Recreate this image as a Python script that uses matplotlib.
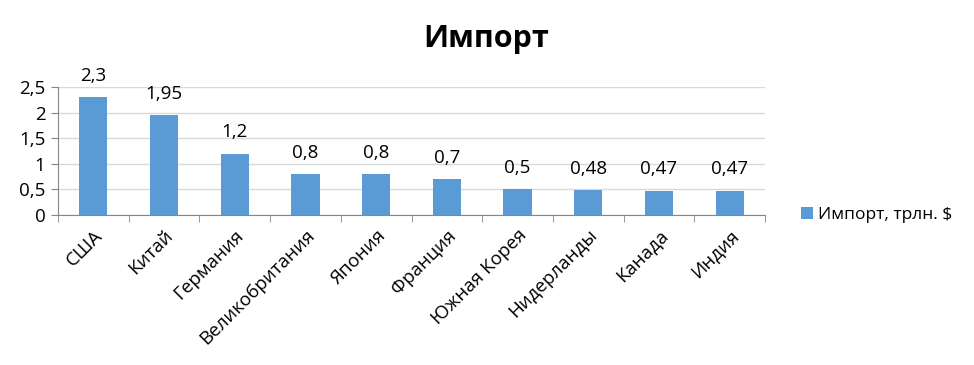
import matplotlib
matplotlib.use("Agg")
import matplotlib.pyplot as plt
from matplotlib.ticker import FixedLocator
import numpy as np

plt.rcParams['font.family'] = ['Open Sans', 'DejaVu Sans']

categories = ["США", "Китай", "Германия", "Великобритания", "Япония",
              "Франция", "Южная Корея", "Нидерланды", "Канада", "Индия"]
values = [2.3, 1.95, 1.2, 0.8, 0.8, 0.7, 0.5, 0.48, 0.47, 0.47]
value_labels = ["2,3", "1,95", "1,2", "0,8", "0,8", "0,7", "0,5", "0,48", "0,47", "0,47"]
yticks = [0, 0.5, 1, 1.5, 2, 2.5]
ytick_labels = ["0", "0,5", "1", "1,5", "2", "2,5"]
series_name = "Импорт, трлн. $"
title = "Импорт"

FS = 13.5
fig = plt.figure(figsize=(9.74, 3.65), dpi=100)
ax = fig.add_axes([58/974, 1-215/365, (765-58)/974, (215-87)/365])

x = np.arange(len(categories))
bars = ax.bar(x, values, width=0.4, color="#5B9BD5", label=series_name, zorder=3)
for xi, v, lab in zip(x, values, value_labels):
    ax.annotate(lab, (xi, v), xytext=(0, 9), textcoords="offset points",
                ha="center", va="bottom", fontsize=FS, color="black",
                annotation_clip=False)

ax.set_xlim(-0.5, len(categories) - 0.5)
ax.set_ylim(0, 2.5)
ax.set_yticks(yticks)
ax.set_yticklabels(ytick_labels, fontsize=FS)
ax.set_xticks(x)
ax.set_xticklabels(categories, rotation=45, ha="right", rotation_mode="anchor", fontsize=FS)
ax.xaxis.set_minor_locator(FixedLocator(np.arange(-0.5, len(categories), 1.0)))
ax.tick_params(axis="x", which="major", length=0, pad=8)
ax.tick_params(axis="x", which="minor", length=5, color="#868686")
ax.tick_params(axis="y", length=5, color="#868686", pad=4)
ax.grid(axis="y", color="#D9D9D9", linewidth=1, zorder=0)
for s in ["top", "right"]:
    ax.spines[s].set_visible(False)
for s in ["left", "bottom"]:
    ax.spines[s].set_color("#868686")

fig.suptitle(title, x=486/974, y=0.935, fontsize=22, fontweight="bold")
fig.legend(handles=[bars], labels=[series_name], loc="center left",
           bbox_to_anchor=(785/974, 1-215/365), frameon=False, fontsize=12.5,
           handlelength=0.7, handleheight=0.7, handletextpad=0.3)

fig.savefig("out.png", dpi=100)
